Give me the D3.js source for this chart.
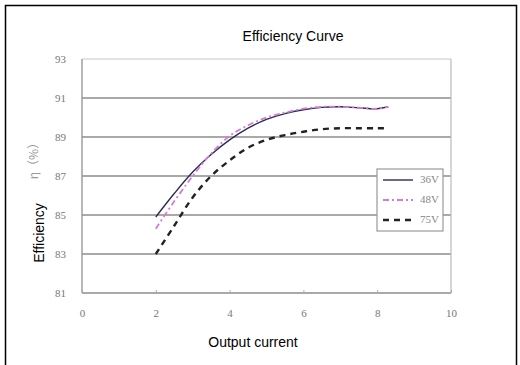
<!DOCTYPE html>
<html lang='en'>
<head>
	<meta charset='utf-8'>
	<title>Efficiency Curve</title>
	<script src="https://d3js.org/d3.v7.min.js"></script>
	<style>
		body{margin:0;background:#fff;}
	</style>
</head>
<body>
<div id='chart'></div>
<script type='text/javascript'>
	// data
	const current = [2, 2.5, 3, 3.5, 4, 4.5, 5, 5.5, 6, 6.5, 7, 7.5, 8, 8.3];
	const eff36 = [84.9, 86.1, 87.2, 88.1, 88.85, 89.45, 89.9, 90.2, 90.4, 90.52, 90.55, 90.5, 90.45, 90.55];
	const eff48 = [84.3, 85.7, 87.0, 88.15, 89.05, 89.6, 90.0, 90.25, 90.45, 90.55, 90.55, 90.5, 90.45, 90.55];
	const eff75 = [83.0, 84.45, 85.9, 87.0, 87.8, 88.45, 88.85, 89.1, 89.27, 89.4, 89.45, 89.45, 89.45, 89.45];
	const seriesNames = ['36V', '48V', '75V'];
	const xTicks = [0, 2, 4, 6, 8, 10];
	const yTicks = [81, 83, 85, 87, 89, 91, 93];

	const svg_block = {width:520,height:365};
	let margin = {top:59,right:69,bottom:72,left:82};
	let width = svg_block.width - margin.left - margin.right;
	let height = svg_block.height - margin.top - margin.bottom;

	let svg = d3.select("#chart")
				.append("svg")
					.attr("width",svg_block.width)
					.attr("height",svg_block.height);

	// outer frame
	svg.append("rect")
		.attr("x",5.5).attr("y",5.5)
		.attr("width",511).attr("height",370)
		.attr("fill","none")
		.attr("stroke","#000")
		.attr("stroke-width",1.5);

	let g = svg.append("g")
				.attr("transform",`translate(${margin.left},${margin.top})`);

	let x = d3.scaleLinear().domain([0,10]).range([0,width]);
	let y = d3.scaleLinear().domain([81,93]).range([height,0]);

	//gridlines
	g.append("g")
		.selectAll("line")
		.data(yTicks)
		.enter()
		.append("line")
			.attr("x1",0).attr("x2",width)
			.attr("y1",d => y(d)).attr("y2",d => y(d))
			.attr("stroke",d => (d==93) ? "#c8c8c8" : "#8c8c8c")
			.attr("stroke-width",d => (d==93) ? 1 : 1.6);

	// plot border (left / right)
	g.append("line").attr("x1",0).attr("x2",0).attr("y1",0).attr("y2",height)
		.attr("stroke","#999").attr("stroke-width",1.4);
	g.append("line").attr("x1",width).attr("x2",width).attr("y1",0).attr("y2",height)
		.attr("stroke","#bbb").attr("stroke-width",1.2);

	// axes
	let xAxis = g.append("g")
		.attr("transform",`translate(0,${height})`)
		.call(d3.axisBottom(x).tickValues(xTicks).tickSize(-3).tickPadding(16));
	let yAxis = g.append("g")
		.call(d3.axisLeft(y).tickValues(yTicks).tickSize(0).tickPadding(16));

	[xAxis,yAxis].forEach(function(a){
		a.select(".domain").remove();
		a.selectAll("line").attr("stroke","#aaa");
		a.selectAll("text")
			.attr("fill","#777")
			.style("font-family","'Liberation Serif','DejaVu Serif',serif")
			.style("font-size","11px");
	});

	// lines
	let line = d3.line()
				.x((d,i) => x(current[i]))
				.y(d => y(d))
				.curve(d3.curveCatmullRom.alpha(0.5));

	const styles = [
		{data:eff36, color:"#2b2d4f", width:1.4, dash:null},
		{data:eff48, color:"#d67ad6", width:1.8, dash:"6,3,2,3"},
		{data:eff75, color:"#222", width:2.4, dash:"6,5"}
	];

	styles.forEach(function(s){
		g.append("path")
			.datum(s.data)
			.attr("d",line)
			.attr("fill","none")
			.attr("stroke",s.color)
			.attr("stroke-width",s.width)
			.attr("stroke-dasharray",s.dash);
	});

	// legend
	let legend = svg.append("g").attr("transform","translate(377,169)");
	legend.append("rect")
		.attr("width",66).attr("height",62)
		.attr("fill","#fff")
		.attr("stroke","#999")
		.attr("stroke-width",1.2);
	seriesNames.forEach(function(d,i){
		let ly = 11 + 20*i;
		legend.append("line")
			.attr("x1",6).attr("x2",36).attr("y1",ly).attr("y2",ly)
			.attr("stroke",styles[i].color)
			.attr("stroke-width",styles[i].width)
			.attr("stroke-dasharray",styles[i].dash);
		legend.append("text")
			.attr("x",62).attr("y",ly)
			.attr("text-anchor","end")
			.attr("dominant-baseline","middle")
			.attr("fill","#888")
			.style("font-family","'Liberation Serif','DejaVu Serif',serif")
			.style("font-size","11px")
			.text(d);
	});

	// titles
	svg.append("text")
		.attr("x",293).attr("y",41)
		.attr("text-anchor","middle")
		.style("font-family","'Liberation Sans',Arial,sans-serif")
		.style("font-size","14px")
		.text("Efficiency Curve");

	svg.append("text")
		.attr("x",253).attr("y",347)
		.attr("text-anchor","middle")
		.style("font-family","'Liberation Sans',Arial,sans-serif")
		.style("font-size","14px")
		.text("Output current");

	svg.append("text")
		.attr("transform","translate(44,233) rotate(-90)")
		.attr("text-anchor","middle")
		.style("font-family","'Liberation Sans',Arial,sans-serif")
		.style("font-size","14px")
		.text("Efficiency");

	svg.append("text")
		.attr("transform","translate(38,158) rotate(-90)")
		.attr("text-anchor","middle")
		.attr("fill","#999")
		.style("font-family","'Noto Sans CJK SC','DejaVu Serif',serif")
		.style("font-size","12px")
		.text("η（%）");
</script>
</body>
</html>
